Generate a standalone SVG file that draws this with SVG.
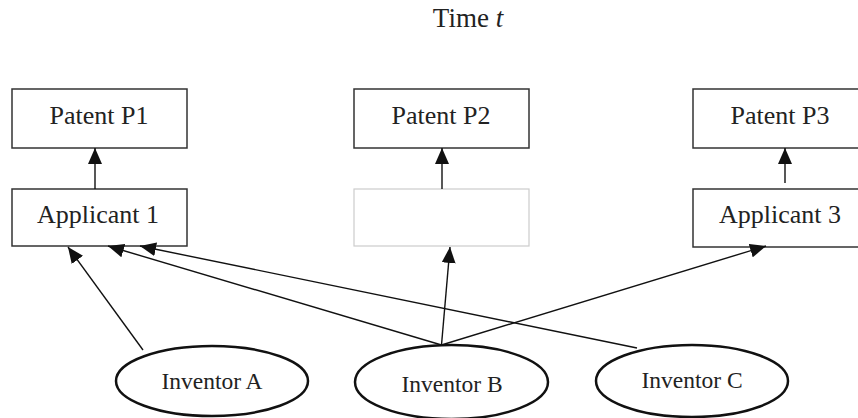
<svg xmlns="http://www.w3.org/2000/svg" width="858" height="418" viewBox="0 0 858 418">
<style>
.box{fill:#fff;stroke:#333;stroke-width:1.5}
.blank{fill:#fff;stroke:#ccc;stroke-width:1.2}
.ell{fill:#fff;stroke:#111;stroke-width:2.5}
.lbl{font-family:"Liberation Serif","Times New Roman",serif;font-size:26px;fill:#222;text-anchor:middle}
.ilbl{font-family:"Liberation Serif","Times New Roman",serif;font-size:23.5px;fill:#222;text-anchor:middle}
.con{stroke:#111;stroke-width:1.4;fill:none;marker-end:url(#ah)}
</style>
<defs>
<marker id="ah" markerUnits="userSpaceOnUse" markerWidth="16" markerHeight="14" viewBox="0 0 16 14" refX="16" refY="7" orient="auto">
<path d="M0,0 L16,7 L0,14 Z" fill="#111"/>
</marker>
</defs>
<rect width="858" height="418" fill="#fff"/>
<text id="title" class="lbl" x="468" y="27" style="font-size:27px">Time <tspan font-style="italic">t</tspan></text>
<g id="p1"><rect class="box" x="12" y="89" width="175" height="59"/><text class="lbl" x="99" y="124">Patent P1</text></g>
<g id="p2"><rect class="box" x="354" y="89" width="175" height="59"/><text class="lbl" x="441" y="124">Patent P2</text></g>
<g id="p3"><rect class="box" x="693" y="89" width="175" height="59"/><text class="lbl" x="780" y="124">Patent P3</text></g>
<g id="a1"><rect class="box" x="12" y="189" width="175" height="57"/><text class="lbl" x="98" y="223">Applicant 1</text></g>
<g id="a2"><rect class="blank" x="354" y="189" width="175" height="57"/></g>
<g id="a3"><rect class="box" x="693" y="189" width="175" height="58"/><text class="lbl" x="780" y="223">Applicant 3</text></g>
<g id="iA"><ellipse class="ell" cx="212" cy="381" rx="96" ry="35"/><text class="ilbl" x="212" y="389">Inventor A</text></g>
<g id="iB"><ellipse class="ell" cx="451.5" cy="382" rx="96.5" ry="37"/><text class="ilbl" x="452" y="392">Inventor B</text></g>
<g id="iC"><ellipse class="ell" cx="692" cy="381" rx="96" ry="36"/><text class="ilbl" x="692" y="388">Inventor C</text></g>
<g id="connectors">
<line class="con" x1="95" y1="189" x2="95" y2="148"/>
<line class="con" x1="442" y1="189" x2="442" y2="148"/>
<line class="con" x1="785" y1="183" x2="785" y2="148"/>
<line class="con" x1="143" y1="350" x2="68" y2="247"/>
<line class="con" x1="441.5" y1="345" x2="108" y2="246"/>
<line class="con" x1="637" y1="348" x2="140" y2="246"/>
<line class="con" x1="441.5" y1="345" x2="450" y2="247"/>
<line class="con" x1="441.5" y1="345" x2="766" y2="246"/>
</g>
</svg>
